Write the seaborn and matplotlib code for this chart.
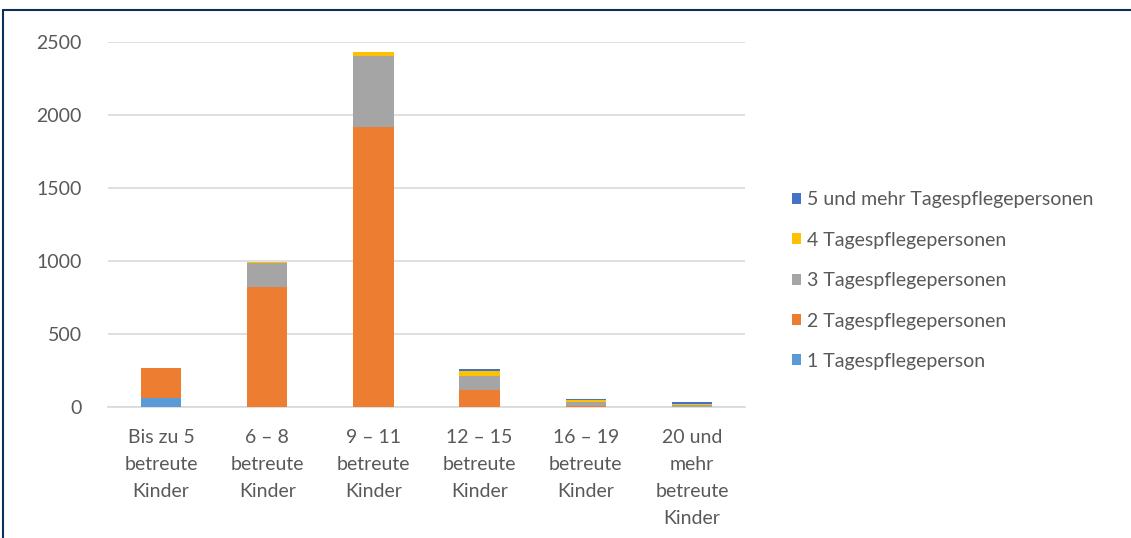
import matplotlib
matplotlib.use("Agg")
import matplotlib.pyplot as plt
import seaborn as sns
import pandas as pd
import numpy as np
from matplotlib.patches import Patch
from matplotlib.lines import Line2D

categories = ["Bis zu 5\nbetreute\nKinder", "6 – 8\nbetreute\nKinder", "9 – 11\nbetreute\nKinder",
              "12 – 15\nbetreute\nKinder", "16 – 19\nbetreute\nKinder", "20 und\nmehr\nbetreute\nKinder"]
series_names = ["1 Tagespflegeperson", "2 Tagespflegepersonen", "3 Tagespflegepersonen",
                "4 Tagespflegepersonen", "5 und mehr Tagespflegepersonen"]
v1 = [65, 0, 0, 0, 0, 0]
v2 = [202, 825, 1920, 115, 5, 3]
v3 = [0, 160, 485, 100, 30, 8]
v4 = [0, 5, 25, 35, 15, 10]
v5 = [0, 5, 3, 8, 2, 15]
colors = ["#5B9BD5", "#ED7D31", "#A5A5A5", "#FFC000", "#4472C4"]
yticks = [0, 500, 1000, 1500, 2000, 2500]

sns.set_theme(style="white")
plt.rcParams['font.family'] = ['Lato', 'DejaVu Sans']

fig = plt.figure(figsize=(11.31, 5.38), dpi=100)
ax = fig.add_axes([108/1131, 1-407/538, (745-108)/1131, (407-42)/538])

vals = np.array([v1, v2, v3, v4, v5], dtype=float)
cum = np.cumsum(vals, axis=0)
for i in range(len(series_names) - 1, -1, -1):
    df = pd.DataFrame({"cat": categories, "val": cum[i]})
    sns.barplot(data=df, x="cat", y="val", color=colors[i], width=0.38,
                saturation=1, ax=ax, zorder=3, order=categories, linewidth=0, edgecolor="none")

ax.set_ylim(0, 2500)
ax.set_xlim(-0.5, 5.5)
ax.set_yticks(yticks)
ax.set_yticklabels([str(t) for t in yticks])
ax.yaxis.grid(True, color="#D9D9D9", linewidth=1.2, zorder=0)
ax.set_axisbelow(True)
for s in ["left", "right", "top"]:
    ax.spines[s].set_visible(False)
ax.spines["bottom"].set_color("#D9D9D9")
ax.spines["bottom"].set_linewidth(1.2)
ax.set_xlabel("")
ax.set_ylabel("")
ax.tick_params(axis="both", length=0, labelsize=14, colors="#595959")
ax.tick_params(axis="y", pad=19)
ax.tick_params(axis="x", pad=16)
for lab in ax.get_xticklabels():
    lab.set_linespacing(1.7)
    lab.set_verticalalignment("top")

handles = [Patch(facecolor=colors[i], edgecolor="none") for i in range(4, -1, -1)]
labels = [series_names[i] for i in range(4, -1, -1)]
leg = fig.legend(handles, labels, loc="upper left", bbox_to_anchor=(774/1131, 1-174/538),
                 frameon=False, fontsize=14, labelspacing=1.2, handlelength=0.5,
                 handleheight=0.5, handletextpad=0.3, labelcolor="#595959")

# outer frame lines (top and left)
fig.add_artist(Line2D([3/1131, 1], [1-10/538, 1-10/538], color="#0B2F5C", linewidth=1.5, transform=fig.transFigure))
fig.add_artist(Line2D([3/1131, 3/1131], [0, 1-10/538], color="#0B2F5C", linewidth=1.5, transform=fig.transFigure))

fig.savefig("out.png", dpi=100)
